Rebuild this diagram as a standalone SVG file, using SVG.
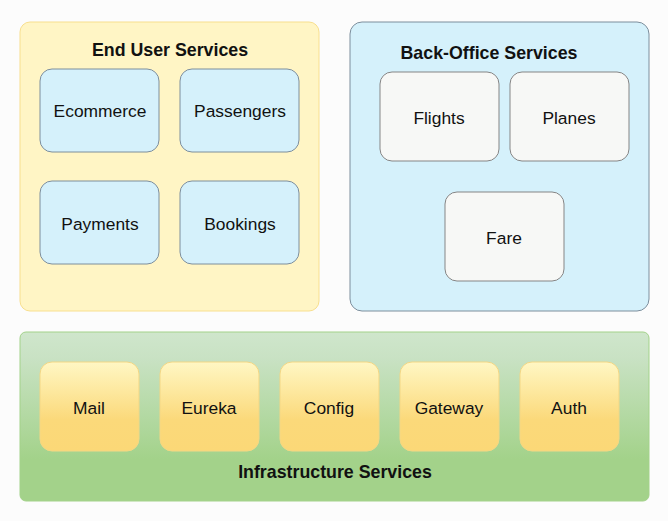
<svg xmlns="http://www.w3.org/2000/svg" width="668" height="521" viewBox="0 0 668 521">
<style>
text{font-family:"Liberation Sans",Arial,sans-serif;fill:#111;text-anchor:middle;dominant-baseline:central}
.t{font-size:17.8px;font-weight:bold}
.l{font-size:17.4px}
.blue{fill:#d5f1fb;stroke:#7d8e9c;stroke-width:1}
.gray{fill:#f7f8f6;stroke:#858585;stroke-width:1}
.inf{fill:url(#gy);stroke:#f3d785;stroke-width:1}
</style>
<defs>
<linearGradient id="gg" x1="0" y1="0" x2="0" y2="1">
<stop offset="0" stop-color="#cfe6cc"/>
<stop offset="0.15" stop-color="#c9e2c4"/>
<stop offset="0.75" stop-color="#a3d28a"/>
<stop offset="1" stop-color="#a3d28a"/>
</linearGradient>
<linearGradient id="gy" x1="0" y1="0" x2="0" y2="1">
<stop offset="0" stop-color="#fff7c4"/>
<stop offset="0.65" stop-color="#fbd97a"/>
<stop offset="1" stop-color="#fbd877"/>
</linearGradient>
</defs>
<rect width="668" height="521" fill="#fcfcfc"/>
<g id="end-user-services">
<rect x="20" y="22" width="299" height="289" rx="10" fill="#fff5c5" stroke="#f8df8e"/>
<text class="t" x="170" y="50">End User Services</text>
</g>
<g id="ecommerce"><rect class="blue" x="40" y="69" width="119" height="83" rx="12"/><text class="l" x="100" y="111">Ecommerce</text></g>
<g id="passengers"><rect class="blue" x="180" y="69" width="119" height="83" rx="12"/><text class="l" x="240" y="111">Passengers</text></g>
<g id="payments"><rect class="blue" x="40" y="181" width="119" height="83" rx="12"/><text class="l" x="100" y="224">Payments</text></g>
<g id="bookings"><rect class="blue" x="180" y="181" width="119" height="83" rx="12"/><text class="l" x="240" y="224">Bookings</text></g>
<g id="back-office-services">
<rect x="350" y="22" width="299" height="289" rx="12" fill="#d5f1fb" stroke="#7d8e9c"/>
<text class="t" x="489" y="53">Back-Office Services</text>
</g>
<g id="flights"><rect class="gray" x="380" y="72" width="119" height="89" rx="12"/><text class="l" x="439" y="118">Flights</text></g>
<g id="planes"><rect class="gray" x="510" y="72" width="119" height="89" rx="12"/><text class="l" x="569" y="118">Planes</text></g>
<g id="fare"><rect class="gray" x="445" y="192" width="119" height="89" rx="12"/><text class="l" x="504" y="238">Fare</text></g>
<g id="infrastructure-services">
<rect x="20" y="332" width="629" height="169" rx="6" fill="url(#gg)" stroke="#a3d28a"/>
<text class="t" x="335" y="472">Infrastructure Services</text>
</g>
<g id="mail"><rect class="inf" x="40" y="362" width="99" height="89" rx="12"/><text class="l" x="89" y="408">Mail</text></g>
<g id="eureka"><rect class="inf" x="160" y="362" width="99" height="89" rx="12"/><text class="l" x="209" y="408">Eureka</text></g>
<g id="config"><rect class="inf" x="280" y="362" width="99" height="89" rx="12"/><text class="l" x="329" y="408">Config</text></g>
<g id="gateway"><rect class="inf" x="400" y="362" width="99" height="89" rx="12"/><text class="l" x="449" y="408">Gateway</text></g>
<g id="auth"><rect class="inf" x="520" y="362" width="99" height="89" rx="12"/><text class="l" x="569" y="408">Auth</text></g>
<g id="connectors"></g>
</svg>
